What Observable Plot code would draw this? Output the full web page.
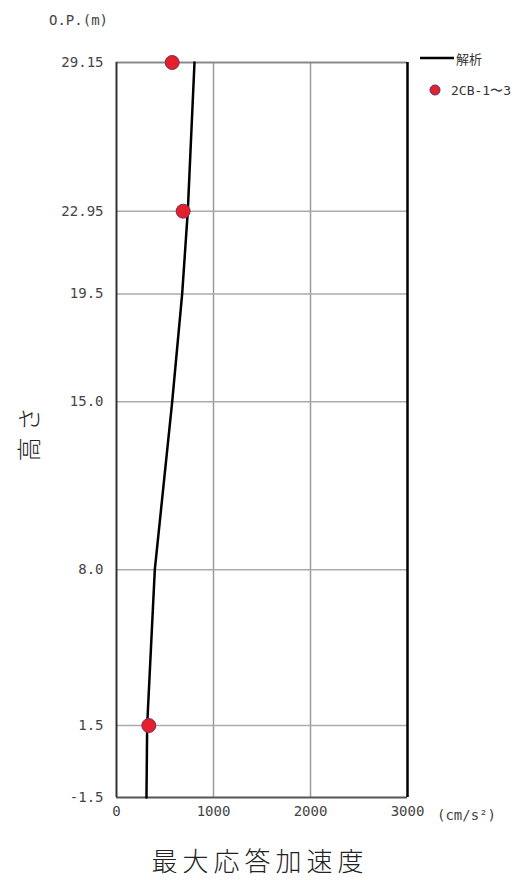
<!DOCTYPE html>
<html><head><meta charset="utf-8">
<script src="https://cdn.jsdelivr.net/npm/d3@7"></script>
<script src="https://cdn.jsdelivr.net/npm/@observablehq/plot@0.6"></script>
<style>
html,body{margin:0;padding:0;background:#fff;}
#chart{position:relative;width:523px;height:880px;}
</style>
</head><body><div id="chart"></div>
<script>
// Analysis line (解析): height (O.P. m) vs max response acceleration (cm/s²)
const lineHeights = [-1.5, 1.5, 8.0, 15.0, 19.5, 22.95, 29.15];
const lineAccel   = [309, 316, 395, 574, 677, 735, 804];
// Observed records (2CB-1〜3)
const obsHeights = [29.15, 22.95, 1.5];
const obsAccel   = [574, 687, 333];
// Axis ticks
const yTicks = [-1.5, 1.5, 8.0, 15.0, 19.5, 22.95, 29.15];
const yTickLabels = ["-1.5", "1.5", "8.0", "15.0", "19.5", "22.95", "29.15"];
const xTicks = [0, 1000, 2000, 3000];
const xGrid = [1000, 2000];
const yGrid = [1.5, 8.0, 15.0, 19.5, 22.95];

const lineData = lineHeights.map((h, i) => ({h, a: lineAccel[i]}));
const obsData = obsHeights.map((h, i) => ({h, a: obsAccel[i]}));

const MONO = "'DejaVu Sans Mono', monospace";
const JP = "'Noto Sans CJK JP', sans-serif";

const chart = Plot.plot({
  width: 523, height: 880,
  marginTop: 62, marginLeft: 116, marginRight: 116, marginBottom: 83,
  style: {fontFamily: MONO, fontSize: "14px", color: "#444", background: "#fff"},
  x: {domain: [0, 3000]},
  y: {domain: [-1.5, 29.15]},
  marks: [
    Plot.ruleX(xGrid, {stroke: "#9a9a9a", strokeWidth: 1.5}),
    Plot.ruleY(yGrid, {stroke: "#ababab", strokeWidth: 1.5}),
    Plot.ruleY([29.15], {stroke: "#8a8a8a", strokeWidth: 2}),
    Plot.ruleY([-1.5], {stroke: "#555", strokeWidth: 2}),
    Plot.ruleX([0], {stroke: "#333", strokeWidth: 2}),
    Plot.ruleX([3000], {stroke: "#000", strokeWidth: 2.5}),
    Plot.axisY(yTicks, {tickSize: 0, tickPadding: 13, tickFormat: d => yTickLabels[yTicks.indexOf(d)], label: null, fill: "#444"}),
    Plot.axisX(xTicks, {tickSize: 0, tickPadding: 9, tickFormat: d => String(d), label: null, fill: "#444"}),
    Plot.line(lineData, {x: "a", y: "h", stroke: "#000", strokeWidth: 2.5, curve: "linear"}),
    Plot.dot(obsData, {x: "a", y: "h", r: 7, fill: "#e3202c", stroke: "#7d2d55", strokeWidth: 1})
  ]
});
document.getElementById("chart").appendChild(chart);

const svg = d3.select(chart);
const sx = chart.scale("x"), sy = chart.scale("y");
const x0 = sx.apply(0), x3 = sx.apply(3000);
const yTop = sy.apply(29.15), yBot = sy.apply(-1.5);

function txt(x, y, s, opts = {}) {
  return svg.append("text").attr("x", x).attr("y", y)
    .attr("text-anchor", opts.anchor || "start")
    .attr("dominant-baseline", "central")
    .attr("font-family", opts.font || MONO)
    .attr("font-size", opts.size || 14)
    .attr("font-weight", opts.weight || 400)
    .attr("fill", opts.fill || "#444")
    .text(s);
}

// Y unit label
txt(108, yTop - 42, "O.P.(m)", {anchor: "end"});
// X unit label
txt(x3 + 30, yBot + 18, "(cm/s²)");
// Y title (rotated)
svg.append("text").attr("transform", `translate(27,${sy.apply(13.75)}) rotate(-90)`)
  .attr("text-anchor", "middle").attr("dominant-baseline", "central")
  .attr("font-family", JP).attr("font-weight", 300).attr("font-size", 24).attr("letter-spacing", 6).attr("fill", "#222")
  .text("高さ");
// X title
txt(260, yBot + 62, "最大応答加速度", {anchor: "middle", font: JP, size: 26, weight: 300, fill: "#222"})
  .attr("letter-spacing", 5);
// Legend
svg.append("line").attr("x1", x3 + 13).attr("x2", x3 + 47).attr("y1", yTop - 4).attr("y2", yTop - 4)
  .attr("stroke", "#000").attr("stroke-width", 2.5);
txt(x3 + 49, yTop - 4, "解析", {font: JP, size: 13, fill: "#333"});
svg.append("circle").attr("cx", x3 + 28).attr("cy", yTop + 28).attr("r", 5)
  .attr("fill", "#e3202c").attr("stroke", "#5a3070").attr("stroke-width", 1);
txt(x3 + 44, yTop + 28, "2CB-1〜3", {size: 13, fill: "#333"});
</script>
</body></html>
